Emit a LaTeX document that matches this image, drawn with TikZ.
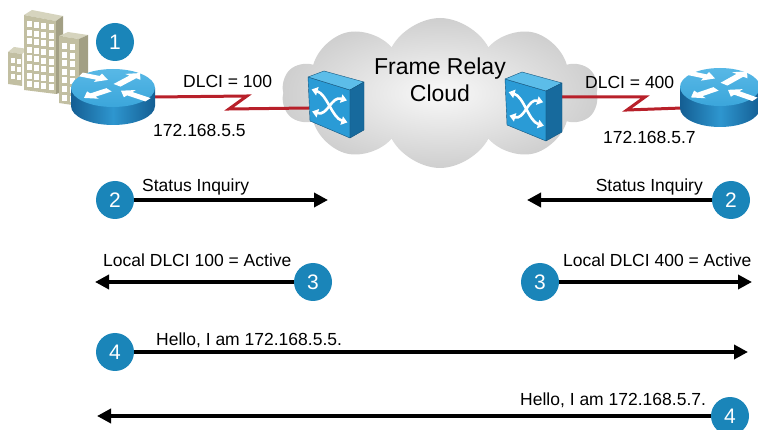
\documentclass[tikz,border=0pt]{standalone}
\usepackage{fontspec}
\setmainfont{Liberation Sans}
\usetikzlibrary{arrows.meta,shapes.symbols}

\definecolor{numblue}{HTML}{1A85B9}
\definecolor{linkred}{HTML}{B8202A}
\definecolor{rtop}{HTML}{3BA6DB}
\definecolor{rtoplight}{HTML}{58B8E6}
\definecolor{rsidedark}{HTML}{145E93}
\definecolor{rsidemid}{HTML}{2E96CF}
\definecolor{swfront}{HTML}{2A9BD6}
\definecolor{swtop}{HTML}{5CBDE9}
\definecolor{swside}{HTML}{176A9D}
\definecolor{bfront}{HTML}{C2BFA2}
\definecolor{bside}{HTML}{A29F84}
\definecolor{btop}{HTML}{D6D4BE}

\begin{document}
\begin{tikzpicture}[x=1pt,y=-1pt,
  lbl/.style={inner sep=0pt, font=\fontsize{17.5}{20}\selectfont},
  bigl/.style={inner sep=0pt, font=\fontsize{23}{27}\selectfont},
  numcirc/.style={circle, fill=numblue, text=white, minimum size=38pt, inner sep=0pt, font=\fontsize{21}{21}\selectfont},
  msg/.style={line width=3.6pt, -{Triangle[length=14pt,width=14pt]}},
  serial/.style={linkred, line width=3pt, line join=miter},
  swarrow/.style={white, line width=2.6pt, {Triangle[length=6pt,width=8.5pt]}-{Triangle[length=6pt,width=8.5pt]}},
  swedge/.style={draw=swside!80!black, line width=0.4pt, line join=round},
]
\useasboundingbox (0,0) rectangle (758,430);

% ---------- cloud ----------
\node[cloud, cloud puffs=10, cloud puff arc=125, cloud ignores aspect,
      minimum width=316pt, minimum height=150pt, inner sep=0pt,
      inner color=gray!5, outer color=gray!38] (cloud) at (440,93) {};
\node[bigl, anchor=base] (fr1) at (440,75) {Frame Relay};
\node[bigl, anchor=base] (fr2) at (440,102) {Cloud};

% ---------- serial links ----------
\coordinate (rLport) at (155,97);
\coordinate (zL1) at (247,96);
\coordinate (zL2) at (229,109);
\coordinate (sLport) at (309,108);
\draw[serial] (rLport) -- (zL1) -- (zL2) -- (sLport);

\coordinate (sRport) at (561,97);
\coordinate (zR1) at (645,97);
\coordinate (zR2) at (627,110);
\coordinate (rRport) at (682,108);
\draw[serial] (sRport) -- (zR1) -- (zR2) -- (rRport);

% ---------- frame relay switches ----------
\fill[swfront, swedge] (308,77) -- (350,90) -- (350,138) -- (310,121) -- cycle;
\fill[swtop, swedge] (308,77) -- (324,71) -- (364,82) -- (350,90) -- cycle;
\fill[swside, swedge] (350,90) -- (364,82) -- (364,130) -- (350,138) -- cycle;
\begin{scope}[shift={(308,77)}, x={(42pt,-13pt)}, y={(1pt,-44pt)}]
  \draw[swarrow] (0.08,0.26) .. controls (0.45,0.26) and (0.55,0.76) .. (0.92,0.76);
  \draw[swarrow] (0.08,0.76) .. controls (0.45,0.76) and (0.55,0.26) .. (0.92,0.26);
\end{scope}

\fill[swfront, swedge] (505,79) -- (546,91) -- (546,141) -- (507,125) -- cycle;
\fill[swtop, swedge] (505,79) -- (522,72) -- (562,83) -- (546,91) -- cycle;
\fill[swside, swedge] (546,91) -- (562,83) -- (562,132) -- (546,141) -- cycle;
\begin{scope}[shift={(505,79)}, x={(41pt,-12pt)}, y={(1.5pt,-47pt)}]
  \draw[swarrow] (0.08,0.26) .. controls (0.45,0.26) and (0.55,0.76) .. (0.92,0.76);
  \draw[swarrow] (0.08,0.76) .. controls (0.45,0.76) and (0.55,0.26) .. (0.92,0.26);
\end{scope}

% ---------- office buildings ----------
% small block on the left
\fill[btop] (8,52) -- (14,47) -- (28,49) -- (22,54) -- cycle;
\fill[bfront] (8,52) -- (22,54) -- (22,86) -- (8,84) -- cycle;
\foreach \r in {0,1,2} \foreach \c in {0,1}
  \fill[white] (11+\c*6,58+\r*8+\c*0.6) rectangle ++(4,5);
% tall tower
\fill[btop] (24,15) -- (32,10) -- (63,16) -- (56,21) -- cycle;
\fill[bfront] (24,15) -- (56,21) -- (56,94) -- (24,90) -- cycle;
\fill[bside] (56,21) -- (63,16) -- (63,92) -- (56,94) -- cycle;
\foreach \r in {0,...,7} \foreach \c in {0,...,3}
  \fill[white] (27+\c*7.2,21+\r*8.6+\c*1.1) rectangle ++(5,6);
% right block
\fill[btop] (59,36) -- (68,32) -- (88,35) -- (79,39) -- cycle;
\fill[bfront] (59,36) -- (79,39) -- (79,106) -- (59,103) -- cycle;
\fill[bside] (79,39) -- (88,35) -- (88,103) -- (79,106) -- cycle;
\foreach \r in {0,...,6} \foreach \c in {0,1}
  \fill[white] (62+\c*8,43+\r*8.6+\c*1.1) rectangle ++(5,6);

% ---------- routers ----------
\foreach \cx/\cy/\rx/\ry/\h in {113/88/42/19/18, 720/87/40/19/21} {
  \path[left color=rsidedark, right color=rsidedark, middle color=rsidemid]
    (\cx-\rx,\cy) -- (\cx-\rx,\cy+\h)
    arc[start angle=180, end angle=360, x radius=\rx pt, y radius=\ry pt]
    -- (\cx+\rx,\cy) -- cycle;
  \path[top color=rtoplight, bottom color=rtop]
    (\cx,\cy) ellipse [x radius=\rx pt, y radius=\ry pt];
  \begin{scope}[shift={(\cx,\cy)}, yscale=\ry/\rx, y=1pt]
    \foreach \sx/\sy/\ex/\ey in {-32/30/-5/18, 4/6/27/33, -4/-4/-29/-22, 35/-26/8/-6} {
      \pgfmathsetmacro\alen{veclen(\ex-\sx,\ey-\sy)}
      \fill[white, shift={(\sx,\sy)}, rotate={atan2(\ey-\sy,\ex-\sx)}]
        (0,-4.5) -- (\alen-11,-4.5) -- (\alen-11,-10) -- (\alen,0)
        -- (\alen-11,10) -- (\alen-11,4.5) -- (0,4.5) -- cycle;
    }
  \end{scope}
}

% ---------- link labels ----------
\node[lbl, anchor=base west] (dlci1) at (183,88) {DLCI = 100};
\node[lbl, anchor=base west] (ip1) at (153,137) {172.168.5.5};
\node[lbl, anchor=base west] (dlci4) at (585,89) {DLCI = 400};
\node[lbl, anchor=base west] (ip7) at (603,144) {172.168.5.7};

% ---------- step markers and messages ----------
\node[numcirc] (n1) at (115,42) {1};

\node[numcirc] (n2L) at (115,200) {2};
\coordinate (e2L) at (328,200);
\draw[msg] (n2L) -- (e2L);
\node[lbl, anchor=base west] (t2L) at (142,192) {Status Inquiry};

\node[numcirc] (n2R) at (731,200) {2};
\coordinate (e2R) at (527,200);
\draw[msg] (n2R) -- (e2R);
\node[lbl, anchor=base east] (t2R) at (703,192) {Status Inquiry};

\node[numcirc] (n3L) at (313,282) {3};
\coordinate (e3L) at (95,282);
\draw[msg] (n3L) -- (e3L);
\node[lbl, anchor=base west] (t3L) at (103,267) {Local DLCI 100 = Active};

\node[numcirc] (n3R) at (540,282) {3};
\coordinate (e3R) at (752,282);
\draw[msg] (n3R) -- (e3R);
\node[lbl, anchor=base west] (t3R) at (563,267) {Local DLCI 400 = Active};

\node[numcirc] (n4L) at (115,352) {4};
\coordinate (e4L) at (748,352);
\draw[msg] (n4L) -- (e4L);
\node[lbl, anchor=base west] (t4L) at (156,346) {Hello, I am 172.168.5.5.};

\node[numcirc] (n4R) at (730,416) {4};
\coordinate (e4R) at (97,416);
\draw[msg] (n4R) -- (e4R);
\node[lbl, anchor=base west] (t4R) at (520,406) {Hello, I am 172.168.5.7.};

\end{tikzpicture}
\end{document}
